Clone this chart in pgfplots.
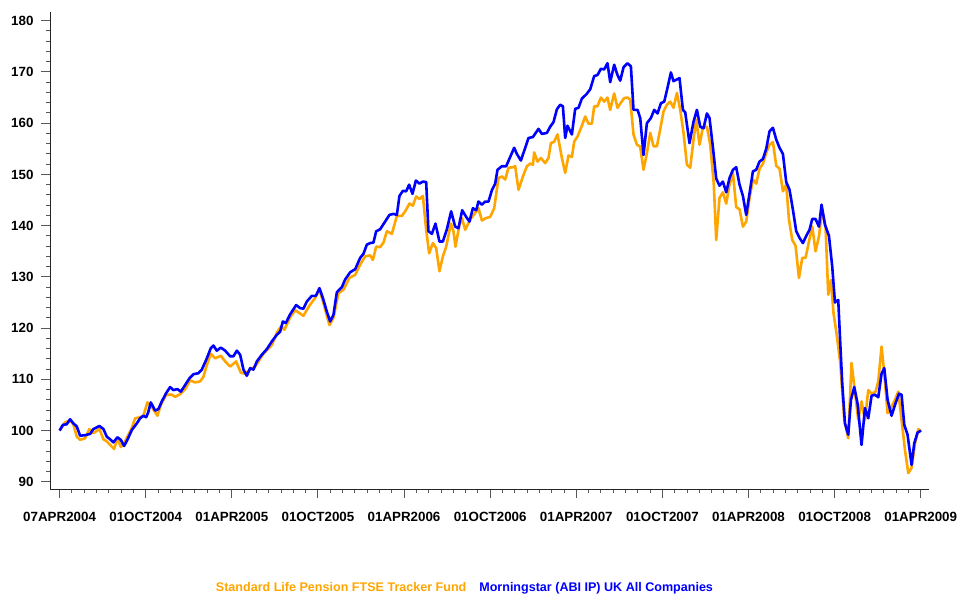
\documentclass[border=0pt]{standalone}
\usepackage{fontspec}
\setmainfont{Liberation Sans}
\usepackage{pgfplots}
\usepackage{pgfplotstable}
\pgfplotsset{compat=1.18}
\definecolor{slorange}{RGB}{255,165,0}
\definecolor{msblue}{RGB}{0,0,255}

% x = weeks since 07APR2004, y = indexed value (07APR2004 = 100)
\pgfplotstableread{
w v
0 100.0
1.66 101.6
3.17 102.0
4.17 101.2
5.19 98.8
6.19 98.2
7.70 98.5
9.00 100.3
10.21 99.5
12.02 100.3
13.23 98.3
14.25 97.9
15.25 97.2
16.46 96.4
17.45 98.5
18.48 96.8
19.48 97.5
20.47 98.8
21.80 100.5
22.80 102.4
24.31 102.6
25.31 102.9
26.51 105.5
27.84 104.6
29.53 102.9
30.56 105.0
32.16 107.0
33.88 107.0
34.88 106.6
36.39 107.1
37.90 108.1
39.41 109.8
40.92 109.4
42.43 109.6
43.43 110.5
44.45 112.8
45.66 115.0
46.96 114.1
48.68 114.6
49.98 113.5
51.49 112.5
53.30 113.5
54.72 111.3
56.02 111.1
57.53 111.9
59.04 112.5
61.54 115.0
64.08 116.7
65.77 119.3
66.80 120.3
67.88 119.7
69.61 122.1
71.12 123.5
73.62 122.4
75.43 124.4
77.16 125.9
78.45 127.5
79.66 124.9
81.47 120.6
82.68 122.0
84.19 126.8
85.70 127.5
87.51 129.8
89.24 130.4
90.75 132.4
92.26 134.0
93.77 134.2
94.58 133.3
95.58 135.9
96.78 135.8
97.78 136.7
98.81 138.9
100.32 138.4
101.83 141.9
103.34 141.9
104.34 142.8
105.63 144.3
106.66 143.9
107.66 145.7
108.65 145.2
109.68 145.8
110.68 139.2
111.58 134.6
112.70 136.6
113.70 135.6
114.69 131.1
115.72 134.0
116.72 135.9
118.13 140.4
118.92 138.9
119.52 135.9
120.73 140.2
121.46 141.5
122.46 139.2
123.97 141.2
125.48 142.5
126.47 143.4
127.50 141.0
128.80 141.5
130.00 141.7
131.21 143.4
132.51 149.3
133.54 149.6
134.54 149.0
135.53 151.3
136.86 151.4
137.55 151.6
138.55 147.0
139.88 149.6
141.09 151.6
142.08 152.1
142.90 151.9
143.29 154.3
144.29 152.5
145.31 153.2
146.61 152.2
147.61 153.2
148.33 156.1
149.33 156.4
150.33 157.8
151.66 153.2
152.65 150.3
153.65 153.7
154.67 153.4
155.37 156.4
156.37 157.4
157.69 159.5
158.69 161.3
159.69 159.9
160.71 159.9
161.41 163.3
162.40 163.3
163.43 165.0
164.43 164.2
165.42 165.0
166.24 162.6
167.44 165.8
168.44 163.0
169.47 164.0
170.47 164.9
171.46 165.0
172.28 164.6
173.28 157.8
174.30 155.8
175.30 155.4
176.30 150.9
177.32 154.2
178.32 158.1
179.32 155.5
180.34 155.5
181.34 158.8
182.34 162.3
183.36 163.6
184.36 164.2
185.36 163.0
186.38 165.9
187.38 162.6
188.38 158.1
189.40 151.9
190.40 151.3
191.40 156.8
192.21 160.7
193.21 155.8
194.24 159.2
195.44 159.3
196.44 155.8
197.50 148.3
198.25 137.2
199.24 145.4
200.27 146.5
201.27 144.3
202.27 148.0
203.29 150.3
204.29 143.6
205.29 143.2
206.31 139.8
207.31 140.8
208.31 145.4
209.33 149.0
210.33 148.2
211.32 151.1
212.35 152.1
213.35 154.2
214.34 155.8
215.37 156.3
216.37 151.7
217.37 151.1
218.39 146.7
219.39 148.0
220.20 141.2
221.21 137.2
222.20 136.1
223.23 129.8
224.23 133.7
225.22 133.7
226.25 136.9
227.24 139.8
228.24 135.0
229.27 137.9
230.26 143.1
231.26 139.8
232.07 126.5
232.89 129.4
233.67 122.9
234.70 118.4
235.70 113.2
236.91 102.1
238.11 98.5
239.11 113.2
240.14 107.6
241.13 102.1
242.13 105.7
243.16 102.1
244.16 107.9
245.15 107.2
246.36 107.6
247.18 109.6
248.17 116.4
248.99 111.2
249.99 103.4
251.19 104.7
252.22 106.0
253.22 107.6
254.21 102.1
255.24 96.2
256.24 91.7
257.23 92.7
258.27 97.5
259.27 100.3
260.07 99.8
}\slfund

\pgfplotstableread{
w v
0 100.0
0.97 101.1
2.17 101.25
3.17 102.2
4.17 101.4
5.19 100.8
6.19 99.0
7.70 99.1
9.21 99.35
10.21 100.3
12.02 100.9
13.23 100.3
14.25 98.8
15.25 98.3
16.25 97.7
17.45 98.7
18.48 98.2
19.48 97.0
20.47 98.2
21.80 100.1
23.31 101.4
24.31 102.4
25.31 102.9
26.12 102.6
26.73 103.5
27.54 105.5
28.84 103.9
29.84 104.2
30.86 105.7
32.16 107.3
33.37 108.5
34.37 107.9
35.57 108.1
36.60 107.6
37.90 108.9
39.20 110.2
40.40 111.0
41.91 111.2
42.94 111.9
44.45 114.1
45.66 116.1
46.44 116.6
47.47 115.6
48.68 116.2
49.98 115.6
51.49 114.5
52.49 114.5
53.51 115.6
54.51 114.8
55.51 111.9
56.53 110.7
57.53 112.2
58.52 111.9
59.55 113.5
61.06 114.8
62.57 115.9
64.08 117.4
65.59 118.7
66.59 119.3
67.40 121.3
68.31 121.0
69.61 122.7
71.42 124.5
72.63 123.9
73.62 123.8
74.65 125.2
76.16 126.3
77.37 126.3
78.45 127.8
79.48 125.9
80.69 123.2
81.69 121.3
82.68 122.6
83.71 127.0
85.22 128.0
86.22 129.5
87.73 130.9
89.24 131.5
90.75 133.7
91.74 134.5
92.77 136.3
93.77 136.6
94.76 136.7
95.58 138.9
96.78 139.3
97.99 140.5
99.59 142.1
100.80 142.3
101.83 142.1
102.61 145.8
103.64 146.8
104.64 146.7
105.54 148.0
106.54 146.2
107.57 148.8
108.65 148.2
109.68 148.6
110.68 148.5
111.37 138.9
112.40 138.4
113.48 140.4
114.69 136.9
115.72 136.9
116.93 139.3
118.22 142.8
119.43 139.8
120.43 139.5
121.55 143.0
122.76 141.7
123.75 140.8
124.78 143.4
125.78 143.0
126.47 144.7
127.50 144.1
128.49 144.7
129.49 144.7
130.52 146.9
131.51 148.2
132.21 150.9
133.54 151.6
134.84 151.6
136.04 153.4
137.25 155.2
138.06 154.0
139.27 152.7
140.06 154.2
141.57 157.1
142.90 157.3
144.59 158.9
145.62 157.9
147.12 158.1
148.12 159.3
149.12 160.2
150.14 162.7
151.14 163.6
151.96 163.3
152.65 157.1
153.35 159.5
154.67 157.8
155.67 162.8
156.67 163.0
157.69 164.8
158.99 165.6
160.20 166.6
161.41 169.2
162.40 169.4
163.43 170.6
164.43 170.5
165.42 171.7
166.24 168.0
167.44 171.4
168.44 169.4
169.26 168.3
170.26 170.9
171.46 171.7
172.49 171.1
173.28 162.6
174.49 162.6
175.30 161.0
176.30 153.8
177.32 160.0
178.53 161.0
179.53 162.6
180.52 161.9
181.55 163.9
182.55 164.2
183.54 166.9
184.57 169.9
185.36 168.2
187.17 168.8
188.19 162.6
188.89 162.1
190.19 156.1
191.40 160.3
192.42 162.6
193.42 159.3
194.42 159.0
195.44 161.9
196.23 161.0
197.25 155.3
198.25 149.2
199.24 147.8
200.27 148.6
201.27 146.5
202.27 149.3
203.29 150.9
204.29 151.4
205.29 148.0
206.31 145.8
207.31 142.1
208.31 146.3
209.33 150.6
210.33 150.9
211.32 152.5
212.35 153.0
213.35 155.0
214.34 158.4
215.37 159.1
216.37 156.8
217.37 155.2
218.39 154.0
219.39 148.5
220.39 147.0
221.41 143.1
222.41 138.9
223.41 137.6
224.43 136.6
225.43 138.0
226.43 139.2
227.24 141.3
228.24 141.3
229.27 139.8
230.05 144.1
231.08 140.2
232.29 138.0
233.28 132.0
234.10 125.0
235.09 125.5
235.70 117.1
236.30 109.2
237.12 101.4
238.11 99.2
238.93 106.0
239.93 108.5
240.92 105.3
242.13 97.2
243.16 104.4
244.16 102.4
245.15 106.8
246.18 107.0
247.18 106.5
248.17 111.1
248.99 112.2
249.99 106.0
251.19 102.9
252.22 105.0
253.43 107.2
254.21 107.0
255.03 101.1
256.02 99.2
257.23 93.3
258.04 97.5
259.04 99.6
260.07 100.0
}\msfund

\begin{document}
\begin{tikzpicture}[x=1bp,y=1bp]
\useasboundingbox (0,0) rectangle (958,594);
\begin{axis}[
  at={(50bp,105bp)}, anchor=south west,
  scale only axis,
  width=879bp, height=477bp,
  xmin=-2.9, xmax=262.5,
  ymin=88.6, ymax=181.7,
  axis lines*=left,
  axis line style={black!85, line width=0.9bp},
  tick align=outside,
  major tick length=9bp,
  minor tick length=4bp,
  every tick/.style={black!65, line width=0.9bp},
  xtick={0,26,52,78,104,130,156,182,208,234,260},
  xticklabels={07APR2004,01OCT2004,01APR2005,01OCT2005,01APR2006,01OCT2006,01APR2007,01OCT2007,01APR2008,01OCT2008,01APR2009},
  minor x tick num=6,
  ytick={90,100,...,180},
  minor y tick num=4,
  /pgf/number format/assume math mode=true,
  ticklabel style={font=\fontsize{13.4}{14}\selectfont\bfseries},
  xticklabel style={yshift=-11bp},
  yticklabel style={xshift=-4bp},
  legend columns=2,
  legend image code/.code={},
  legend style={draw=none, fill=none, at={(0.4715,-0.207)}, anchor=center,
    font=\fontsize{12.6}{13}\selectfont\bfseries,
    /tikz/every even column/.append style={column sep=9bp}},
]
\addplot[slorange, line width=2.6bp, line join=round] table[x=w, y=v] {\slfund};
\addlegendentry[text=slorange]{Standard Life Pension FTSE Tracker Fund}
\addplot[msblue, line width=2.6bp, line join=round] table[x=w, y=v] {\msfund};
\addlegendentry[text=msblue]{Morningstar (ABI IP) UK All Companies}
\end{axis}
\end{tikzpicture}
\end{document}
